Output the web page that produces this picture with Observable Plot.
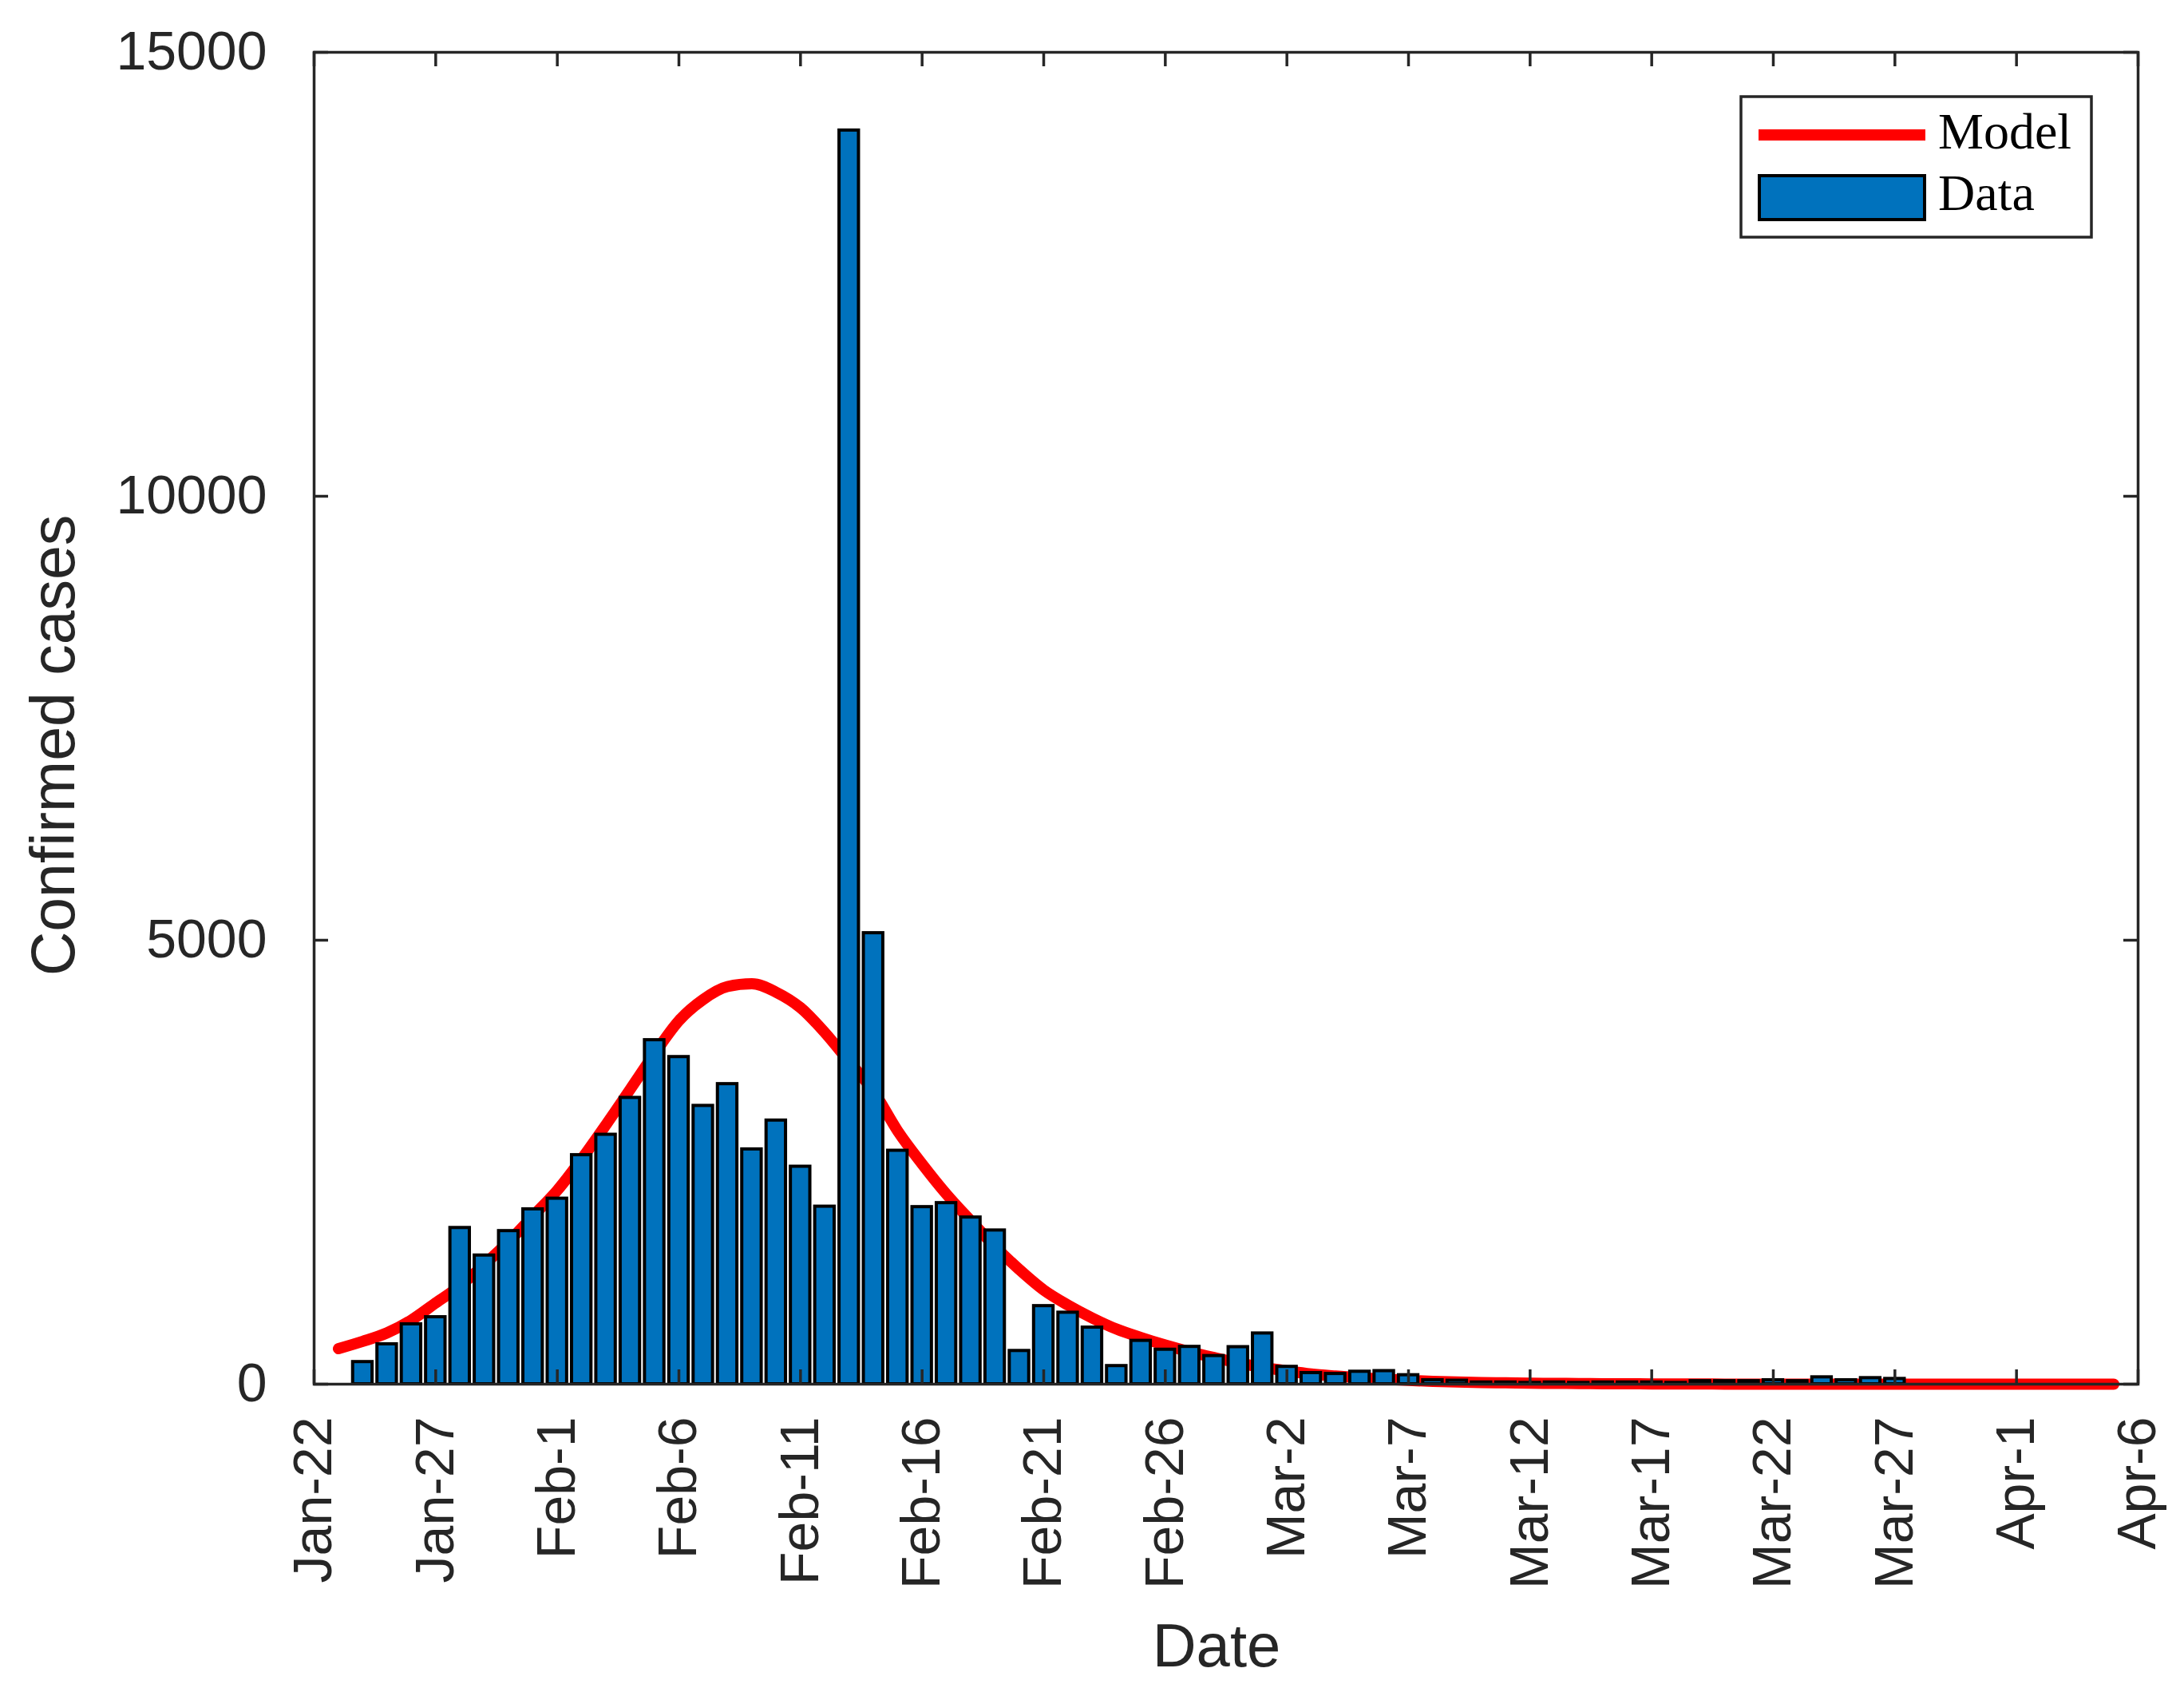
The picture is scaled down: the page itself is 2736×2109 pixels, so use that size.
<!DOCTYPE html>
<html><head><meta charset="utf-8">
<script src="https://cdn.jsdelivr.net/npm/d3@7"></script>
<script src="https://cdn.jsdelivr.net/npm/@observablehq/plot@0.6"></script>
<style>
html,body{margin:0;padding:0;background:#fff;overflow:hidden;}
#wrap{position:relative;width:2736px;height:2109px;}
#wrap svg{display:block;}
#legend{position:absolute;left:0;top:0;pointer-events:none;}
</style></head><body><div id="wrap"></div>
<script>
// ---- data ----
const barStart = "2020-01-23";
const dataCases = [
  0, 250, 450, 675, 755, 1760, 1450, 1725, 1970,               // Jan 23-31
  2090, 2580, 2810, 3225, 3875, 3685, 3135, 3380, 2645, 2970,  // Feb 1-10
  2450, 2000, 14120, 5080, 2630, 1995, 2040, 1878, 1732, 375,  // Feb 11-20
  880, 806, 638, 205, 489, 389, 421, 318, 418,                 // Feb 21-29
  572, 196, 126, 116, 141, 148, 102, 45, 40, 20,               // Mar 1-10
  20, 15, 20, 15, 20, 20, 20, 15, 35, 35,                      // Mar 11-20
  35, 45, 35, 78, 45, 69, 60                                   // Mar 21-27
];
const modelStart = "2020-01-23";
const modelCases = [
  400, 482, 578, 722, 915, 1107, 1348, 1605, 1894,             // Jan 23-31
  2183, 2536, 2921, 3322, 3724, 4093, 4333, 4478, 4510, 4414,  // Feb 1-10
  4240, 3960, 3630, 3300, 2850, 2480, 2140, 1840, 1550, 1290,  // Feb 11-20
  1060, 890, 745, 620, 525, 440, 365, 300, 240,                // Feb 21-29
  190, 150, 115, 92, 73, 56, 42, 32, 25, 19,                   // Mar 1-10
  15, 11, 9, 7, 5, 4, 3, 2, 2, 1,                              // Mar 11-20
  1, 1, 0, 0, 0, 0, 0, 0, 0, 0, 0,                             // Mar 21-31
  0, 0, 0, 0, 0                                                // Apr 1-5
];
const xDomain = ["2020-01-22", "2020-04-06"];
const xTickLabels = ["Jan-22","Jan-27","Feb-1","Feb-6","Feb-11","Feb-16","Feb-21","Feb-26",
                     "Mar-2","Mar-7","Mar-12","Mar-17","Mar-22","Mar-27","Apr-1","Apr-6"];
const xTickStep = 5; // days
const yTicks = [0, 5000, 10000, 15000];
const yDomain = [0, 15000];
const legendLabels = ["Model", "Data"];
const xLabel = "Date";
const yLabel = "Confirmed cases";

// ---- build tables ----
const DAY = 864e5;
const d0 = new Date(barStart + "T00:00:00Z");
const m0 = new Date(modelStart + "T00:00:00Z");
const bars = dataCases.map((v, i) => ({date: d3.utcDay.offset(d0, i), value: v}));
const model = modelCases.map((v, i) => ({date: d3.utcDay.offset(m0, i), value: v}));
const xd0 = new Date(xDomain[0] + "T00:00:00Z");
const xTicks = xTickLabels.map((l, i) => ({date: d3.utcDay.offset(xd0, i * xTickStep), label: l}));

// ---- layout ----
const W = 2736, H = 2109;
const mL = 393, mR = 58, mT = 65, mB = 376;
const pW = W - mL - mR, pH = H - mT - mB;
const TICK = 18;
const AX = "#262626";
const SANS = "'Liberation Sans', Arial, Helvetica, sans-serif";

const chart = Plot.plot({
  width: W, height: H,
  marginLeft: mL, marginRight: mR, marginTop: mT, marginBottom: mB,
  style: {background: "#fff", fontFamily: SANS},
  x: {type: "utc", domain: [xd0, new Date(xDomain[1] + "T00:00:00Z")], axis: null},
  y: {domain: yDomain, axis: null},
  marks: [
    Plot.line(model, {x: "date", y: "value", stroke: "#FF0000", strokeWidth: 14,
      strokeLinecap: "round", strokeLinejoin: "round", curve: "monotone-x"}),
    Plot.rectY(bars, {
      x1: d => new Date(+d.date - 0.4 * DAY),
      x2: d => new Date(+d.date + 0.4 * DAY),
      y: "value", fill: "#0072BD", stroke: "#000", strokeWidth: 4
    }),
    // inward ticks (bottom / top)
    Plot.tickX(xTicks, {x: "date", insetTop: pH - TICK, stroke: AX, strokeWidth: 3.5}),
    Plot.tickX(xTicks, {x: "date", insetBottom: pH - TICK, stroke: AX, strokeWidth: 3.5}),
    // inward ticks (left / right)
    Plot.tickY(yTicks, {y: d => d, insetRight: pW - TICK, stroke: AX, strokeWidth: 3.5}),
    Plot.tickY(yTicks, {y: d => d, insetLeft: pW - TICK, stroke: AX, strokeWidth: 3.5}),
    Plot.frame({stroke: AX, strokeWidth: 3.5}),
    // tick labels
    Plot.text(yTicks, {y: d => d, text: d => String(d), frameAnchor: "left", dx: -59,
      textAnchor: "end", lineAnchor: "middle", fontSize: 68, fill: AX, fontFamily: SANS}),
    Plot.text(xTicks, {x: "date", text: "label", frameAnchor: "bottom", dy: 41, rotate: -90,
      textAnchor: "end", lineAnchor: "middle", fontSize: 68, fill: AX, fontFamily: SANS}),
    // axis titles
    Plot.text([xLabel], {text: d => d, frameAnchor: "bottom", dx: -12, dy: 329,
      textAnchor: "middle", lineAnchor: "middle", fontSize: 76, fill: AX, fontFamily: SANS}),
    Plot.text([yLabel], {text: d => d, frameAnchor: "left", dx: -325, dy: 34, rotate: -90,
      textAnchor: "middle", lineAnchor: "middle", fontSize: 77, fill: AX, fontFamily: SANS})
  ]
});
const wrap = document.getElementById("wrap");
wrap.appendChild(chart);

// ---- legend overlay ----
const lg = d3.select(wrap).append("svg").attr("id", "legend")
  .attr("width", W).attr("height", H);
lg.append("rect").attr("x", 2181).attr("y", 121).attr("width", 439).attr("height", 176)
  .attr("fill", "#fff").attr("stroke", AX).attr("stroke-width", 3.5);
lg.append("line").attr("x1", 2203).attr("x2", 2412).attr("y1", 169).attr("y2", 169)
  .attr("stroke", "#FF0000").attr("stroke-width", 14);
lg.append("rect").attr("x", 2204).attr("y", 220).attr("width", 207).attr("height", 55)
  .attr("fill", "#0072BD").attr("stroke", "#000").attr("stroke-width", 4);
lg.selectAll("text.lab").data(legendLabels).join("text").attr("class", "lab")
  .attr("x", 2428).attr("y", (d, i) => i === 0 ? 186 : 263)
  .attr("font-family", "'Liberation Serif', 'Times New Roman', serif")
  .attr("font-size", 64).attr("fill", "#000").text(d => d);
</script>
</body></html>
